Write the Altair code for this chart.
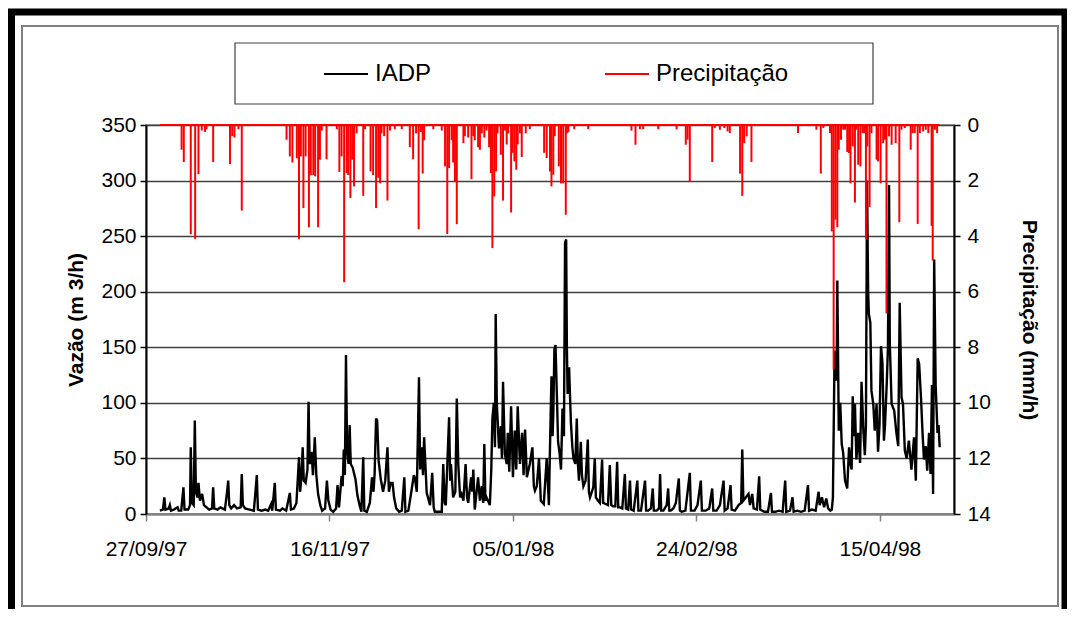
import altair as alt
import pandas as pd

# ---- data (day offset from 27/09/97) ----
flow_day = [3.8, 4.6, 5.0, 5.3, 6.2, 6.5, 6.8, 7.6, 8.6, 8.9, 9.6, 10.2, 10.5, 11.5, 12.0, 12.2, 12.5, 13.0, 13.3, 13.6,
            14.0, 14.3, 14.7, 15.3, 15.8, 16.5, 17.2, 18.0, 18.3, 18.6, 19.5, 20.3, 21.5, 22.1, 22.4, 22.7, 23.2, 24.0, 24.8, 25.8,
            26.1, 26.4, 27.0, 28.2, 29.4, 30.2, 30.5, 31.5, 32.5, 33.3, 34.1, 34.4, 35.1, 35.4, 36.5, 37.2, 38.2, 39.2, 39.5, 40.3,
            41.0, 41.7, 42.0, 42.4, 42.7, 43.0, 43.5, 44.0, 44.3, 44.6, 45.1, 45.5, 46.0, 46.4, 46.9, 47.5, 48.0, 48.8, 49.3, 49.7,
            50.3, 51.0, 51.8, 52.2, 52.6, 53.3, 53.6, 53.9, 54.2, 54.5, 54.8, 55.2, 55.5, 55.8, 56.3, 57.1, 57.6, 58.2, 58.7, 59.2,
            59.5, 60.2, 61.0, 61.6, 62.0, 62.3, 62.7, 63.0, 63.4, 64.0, 64.6, 65.2, 65.8, 66.2, 66.7, 67.2, 67.6, 68.2, 69.0, 69.7,
            70.4, 70.7, 71.5, 72.4, 73.0, 73.3, 73.8, 74.4, 74.7, 75.1, 75.5, 75.8, 76.5, 77.4, 78.0, 78.4, 78.7, 79.7, 80.6, 81.0,
            81.4, 81.7, 82.6, 82.9, 83.1, 83.7, 84.3, 84.7, 85.1, 85.6, 86.0, 86.5, 87.1, 87.5, 87.8, 88.6, 88.9, 89.2, 89.6, 90.5,
            91.0, 91.5, 91.9, 92.2, 92.5, 92.8, 93.7, 94.1, 94.4, 94.8, 95.1, 95.3, 95.6, 96.2, 96.7, 97.0, 97.3, 97.8, 98.3, 98.6,
            99.0, 99.5, 100.0, 100.5, 100.9, 101.3, 101.9, 102.5, 102.9, 103.3, 103.8, 104.6, 105.3, 105.7, 106.0, 106.5, 107.1, 107.6, 108.4, 109.2,
            109.8, 110.1, 110.5, 110.8, 111.0, 111.3, 111.6, 112.0, 112.3, 112.7, 113.1, 113.5, 113.9, 114.2, 114.5, 114.7, 114.9, 115.3, 115.8, 116.2,
            116.5, 117.0, 117.4, 117.7, 118.0, 118.5, 118.8, 119.2, 119.8, 120.4, 120.7, 121.0, 121.5, 121.9, 122.3, 122.6, 123.2, 123.7, 124.3, 124.6,
            125.3, 125.9, 126.4, 126.8, 127.3, 127.9, 128.4, 128.7, 129.2, 129.8, 130.5, 130.8, 131.4, 131.9, 132.2, 132.9, 133.9, 134.2, 134.9, 136.0,
            136.3, 136.9, 137.6, 138.1, 138.4, 139.2, 139.8, 140.1, 140.4, 141.0, 141.9, 142.3, 142.6, 143.0, 143.7, 144.4, 145.2, 145.5, 146.0, 147.0,
            148.2, 148.5, 149.5, 150.3, 151.2, 151.5, 152.5, 153.5, 154.3, 154.6, 155.5, 156.4, 157.4, 157.7, 158.5, 159.3, 159.6, 160.5, 161.5, 162.2,
            162.5, 162.8, 163.5, 164.2, 164.6, 165.2, 165.6, 166.5, 167.1, 167.4, 168.5, 169.5, 170.3, 170.6, 171.5, 172.5, 173.5, 174.2, 174.5, 175.5,
            176.2, 176.5, 177.5, 178.5, 179.5, 180.4, 180.7, 181.5, 182.5, 183.3, 183.6, 184.2, 184.8, 185.4, 185.9, 186.5, 186.9, 187.2, 187.6, 187.9,
            188.2, 188.4, 188.8, 189.2, 189.6, 190.0, 190.5, 191.1, 191.6, 192.0, 192.3, 192.6, 192.9, 193.2, 193.6, 194.1, 194.6, 195.0, 195.5, 195.9,
            196.2, 196.5, 196.8, 197.0, 197.4, 197.7, 198.2, 198.6, 199.1, 199.5, 199.9, 200.3, 200.7, 201.1, 201.4, 201.9, 202.2, 202.5, 202.7, 203.2,
            203.9, 204.5, 205.0, 205.4, 205.9, 206.3, 206.8, 207.3, 207.9, 208.6, 209.3, 209.8, 210.3, 210.7, 211.2, 211.6, 212.0, 212.5, 212.9, 213.4,
            213.8, 214.2, 214.5, 214.8, 215.2, 215.7, 216.0, 216.3]
flow_q = [3, 4, 15, 4, 5, 8, 3, 4, 6, 3, 3, 24, 4, 4, 8, 60, 10, 8, 84, 20,
          15, 28, 12, 18, 8, 6, 4, 5, 24, 5, 4, 6, 4, 20, 30, 8, 5, 8, 5, 6,
          36, 8, 5, 4, 3, 35, 4, 3, 4, 3, 9, 3, 28, 4, 3, 5, 3, 19, 4, 5,
          10, 51, 20, 35, 60, 30, 28, 40, 101, 45, 56, 35, 69, 36, 18, 8, 3, 5, 30, 12,
          4, 2, 5, 26, 6, 34, 25, 58, 35, 143, 57, 45, 80, 45, 42, 31, 17, 8, 2, 51,
          3, 2, 10, 33, 20, 36, 86, 84, 48, 31, 20, 30, 60, 20, 28, 28, 15, 5, 2, 3,
          33, 2, 3, 22, 35, 32, 20, 123, 40, 60, 35, 69, 19, 8, 37, 6, 2, 2, 2, 45,
          10, 8, 87, 30, 45, 15, 20, 104, 45, 15, 18, 12, 45, 15, 10, 33, 20, 40, 4, 33,
          12, 25, 10, 63, 12, 15, 8, 40, 86, 100, 60, 180, 100, 59, 79, 50, 119, 54, 45, 73,
          38, 97, 33, 75, 40, 97, 45, 73, 35, 76, 33, 45, 60, 25, 21, 25, 50, 12, 9, 50,
          8, 60, 124, 70, 90, 148, 152, 104, 65, 55, 40, 95, 70, 244, 247, 150, 108, 132, 82, 60,
          50, 45, 86, 45, 30, 65, 35, 25, 30, 67, 20, 15, 20, 24, 50, 15, 12, 10, 49, 10,
          9, 8, 44, 8, 7, 7, 47, 6, 6, 5, 36, 5, 4, 30, 4, 3, 30, 3, 3, 30,
          3, 3, 5, 23, 3, 3, 5, 36, 3, 3, 8, 23, 3, 3, 5, 10, 32, 3, 2, 3,
          37, 3, 3, 8, 30, 3, 3, 5, 23, 3, 3, 8, 30, 3, 5, 26, 4, 3, 8, 10,
          58, 12, 15, 18, 8, 18, 5, 4, 34, 4, 2, 2, 19, 2, 2, 3, 2, 30, 2, 3,
          15, 2, 3, 2, 3, 26, 3, 4, 3, 20, 8, 15, 6, 14, 5, 3, 4, 15, 130, 147,
          120, 210, 75, 100, 63, 55, 30, 23, 60, 45, 40, 106, 70, 99, 49, 73, 46, 119, 75, 53,
          80, 300, 200, 180, 172, 111, 99, 75, 99, 56, 80, 151, 136, 66, 80, 120, 150, 296, 154, 99,
          93, 73, 61, 190, 105, 99, 57, 50, 66, 40, 69, 30, 140, 135, 105, 75, 49, 61, 39, 73,
          36, 116, 18, 229, 116, 73, 80, 60]

rain_day = [3.8, 9.7, 10.3, 12.2, 13.4, 14.3, 15.2, 16.1, 16.5, 18.3, 22.9, 23.5, 24.1, 25.2, 26.1, 38.3, 39.2, 39.9, 41.1, 41.7,
            42.2, 42.9, 43.5, 44.4, 44.9, 45.6, 46.1, 46.9, 47.4, 47.9, 49.2, 52.0, 52.7, 53.3, 54.0, 54.7, 55.1, 55.7, 56.2, 56.7,
            57.4, 59.2, 59.7, 61.2, 61.9, 62.7, 63.3, 63.8, 64.2, 64.9, 65.8, 66.5, 67.8, 69.7, 71.9, 72.8, 73.6, 74.3, 74.9, 75.4,
            75.8, 78.3, 80.6, 81.5, 82.1, 82.6, 83.3, 83.7, 84.2, 84.7, 86.5, 86.9, 87.8, 88.7, 89.2, 89.6, 90.5, 91.0, 91.5, 92.2,
            92.8, 93.5, 94.0, 94.4, 94.9, 95.4, 95.8, 96.7, 97.3, 97.8, 98.3, 98.7, 99.5, 99.9, 100.4, 100.9, 101.3, 101.9, 102.4, 103.5,
            104.6, 108.5, 109.2, 110.1, 110.5, 111.0, 111.4, 112.5, 113.1, 113.7, 114.4, 114.8, 115.1, 116.7, 120.5, 132.3, 133.4, 134.6, 135.5, 139.6,
            144.6, 147.1, 147.6, 148.2, 154.3, 155.0, 156.4, 157.6, 158.5, 159.1, 161.9, 162.5, 163.0, 163.7, 165.0, 177.7, 182.7, 183.9, 184.6, 186.4,
            186.9, 187.4, 187.9, 188.4, 188.8, 189.4, 190.0, 190.5, 191.1, 191.6, 192.0, 192.6, 193.2, 193.6, 194.1, 194.7, 195.3, 195.7, 196.2, 196.6,
            197.2, 197.7, 199.1, 199.5, 200.2, 200.9, 201.4, 201.8, 202.5, 203.2, 204.3, 205.3, 205.9, 206.8, 208.4, 208.9, 209.5, 210.3, 210.9, 211.8,
            212.5, 213.2, 214.1, 214.4, 215.0, 215.6, 216.3]
rain_mm = [0, 0.89, 1.33, 3.93, 4.1, 1.77, 0.2, 0.25, 0.15, 1.33, 1.41, 0.4, 0.45, 0.15, 3.08, 0.53, 1.13, 1.35, 1.2, 4.1,
           1.13, 2.99, 1.13, 3.68, 1.8, 1.8, 1.85, 3.68, 1.25, 0.2, 1.23, 0.15, 1.69, 1.13, 5.66, 1.73, 1.8, 2.63, 1.25, 2.21,
           0.3, 2.55, 0.15, 1.67, 1.8, 2.99, 1.9, 2.1, 0.3, 0.4, 2.72, 0.2, 0.15, 0.15, 0.8, 1.23, 0.3, 3.75, 0.25, 1.75,
           0.55, 0.15, 0.2, 1.49, 3.92, 1.55, 0.55, 1.35, 2.03, 3.57, 0.65, 0.4, 0.45, 1.95, 0.4, 0.55, 0.8, 0.89, 0.3, 0.45,
           0.2, 0.8, 1.73, 4.43, 2.57, 1.67, 0.3, 1.07, 2.72, 0.2, 0.7, 0.3, 3.15, 1.0, 1.31, 1.61, 0.7, 0.3, 1.15, 0.3,
           0.15, 1.0, 1.19, 1.67, 2.21, 1.79, 0.4, 1.49, 2.1, 2.1, 3.23, 0.3, 0.25, 0.15, 0.15, 0.2, 0.71, 0.15, 0.15, 0.15,
           0.15, 0.71, 0.53, 2.03, 1.33, 0.11, 0.17, 0.11, 0.23, 0.29, 1.75, 2.55, 0.65, 0.41, 1.33, 0.29, 0.17, 1.75, 0.11, 0.29,
           3.83, 8.8, 3.41, 3.68, 0.89, 0.53, 0.17, 0.17, 0.97, 1.01, 2.1, 0.77, 2.79, 0.17, 1.43, 1.49, 0.29, 0.29, 4.1, 0.77,
           2.95, 0.29, 1.25, 1.31, 2.1, 0.65, 0.53, 6.78, 0.41, 0.71, 0.65, 3.5, 0.17, 0.11, 0.89, 0.29, 0.29, 3.56, 0.29, 0.23,
           0.17, 0.29, 3.63, 4.88, 0.17, 0.29, 0]

x_domain = [0, 220.2]
x_tick_days = [0, 50, 100, 150, 200]
x_tick_labels = ["27/09/97", "16/11/97", "05/01/98", "24/02/98", "15/04/98"]
q_ticks = [0, 50, 100, 150, 200, 250, 300, 350]
p_ticks = [0, 2, 4, 6, 8, 10, 12, 14]
series_names = ["IADP", "Precipitação"]
series_colors = ["#000000", "#ff0000"]

flow = pd.DataFrame({"day": flow_day, "q": flow_q, "serie": series_names[0]})
rain = pd.DataFrame({"day": rain_day, "mm": rain_mm, "serie": series_names[1]})

label_expr = " : ".join(f"datum.value == {d} ? '{l}'" for d, l in zip(x_tick_days, x_tick_labels)) + " : ''"

FONT = "Liberation Sans, Arial, sans-serif"

color = alt.Color(
    "serie:N",
    scale=alt.Scale(domain=series_names, range=series_colors),
    legend=alt.Legend(
        title=None, orient="none", legendX=177, legendY=-74, direction="horizontal",
        symbolType="stroke", symbolSize=1936, symbolStrokeWidth=2,
        labelFont=FONT, labelFontSize=24, labelColor="#000000", labelOffset=6,
        columnPadding=169, padding=0, labelLimit=400,
    ),
)

x_scale = alt.Scale(domain=x_domain, nice=False, zero=False)
x_axis = alt.Axis(
    values=x_tick_days, labelExpr=label_expr, title=None, grid=False,
    labelFont=FONT, labelFontSize=21, labelColor="#000000", labelFlush=False,
    labelAlign="center",
    tickColor="#808080", tickSize=7, tickWidth=1.5,
    domainColor="#808080", domainWidth=2, labelPadding=17,
)

flow_line = alt.Chart(flow).mark_line(strokeWidth=2.4, strokeJoin="miter").encode(
    x=alt.X("day:Q", scale=x_scale, axis=x_axis),
    y=alt.Y(
        "q:Q",
        scale=alt.Scale(domain=[0, 350], nice=False),
        axis=alt.Axis(
            values=q_ticks, title="Vazão (m 3/h)", orient="left",
            titleFont=FONT, titleFontSize=21, titleFontWeight="bold", titleColor="#000000",
            titlePadding=14,
            labelFont=FONT, labelFontSize=21, labelColor="#000000", labelPadding=4,
            tickColor="#000000", tickSize=6, tickWidth=1.5,
            domainColor="#000000", domainWidth=2,
            grid=True, gridColor="#404040", gridWidth=1.3,
        ),
    ),
    color=color,
)

p_axis = alt.Axis(
    values=p_ticks, title="Precipitação (mm/h)", orient="right",
    titleFont=FONT, titleFontSize=21, titleFontWeight="bold", titleColor="#000000",
    titlePadding=28,
    labelFont=FONT, labelFontSize=21, labelColor="#000000", labelPadding=7,
    tickColor="#000000", tickSize=6, tickWidth=1.5,
    domainColor="#000000", domainWidth=2, grid=False,
)
p_scale = alt.Scale(domain=[0, 14], reverse=True, nice=False)

rain_bars = alt.Chart(rain).mark_rule(strokeWidth=2).encode(
    x=alt.X("day:Q", scale=x_scale, axis=x_axis),
    y=alt.Y("mm:Q", scale=p_scale, axis=p_axis),
    y2=alt.datum(0),
    color=color,
)
rain_base = alt.Chart(rain).mark_rule(strokeWidth=2).encode(
    x=alt.X("min(day):Q", scale=x_scale, axis=x_axis),
    x2="max(day):Q",
    y=alt.Y("min(mm):Q", scale=p_scale, axis=p_axis),
    color=color,
)

one = pd.DataFrame({"k": [0]})
outer_frame = alt.Chart(one).mark_rect(fillOpacity=0, stroke="#000000", strokeWidth=7).encode(
    x=alt.value(-134.5), x2=alt.value(919), y=alt.value(-113), y2=alt.value(520)
)
inner_frame = alt.Chart(one).mark_rect(fillOpacity=0, stroke="#808080", strokeWidth=2).encode(
    x=alt.value(-124), x2=alt.value(912), y=alt.value(-99), y2=alt.value(481)
)
legend_box = alt.Chart(one).mark_rect(fillOpacity=0, stroke="#404040", strokeWidth=1.2).encode(
    x=alt.value(89), x2=alt.value(727), y=alt.value(-82), y2=alt.value(-21)
)

precip = alt.layer(rain_bars, rain_base)
chart = alt.layer(outer_frame, inner_frame, legend_box, flow_line, precip).resolve_scale(
    y="independent"
).properties(
    width=808, height=389,
    autosize=alt.AutoSizeParams(type="none"),
    padding={"left": 138, "top": 117, "right": 113, "bottom": 95},
    background="#ffffff",
).configure_view(stroke="#a0a0a0", strokeWidth=2)

chart.save("out.html", embed_options={"renderer": "svg", "actions": False})
